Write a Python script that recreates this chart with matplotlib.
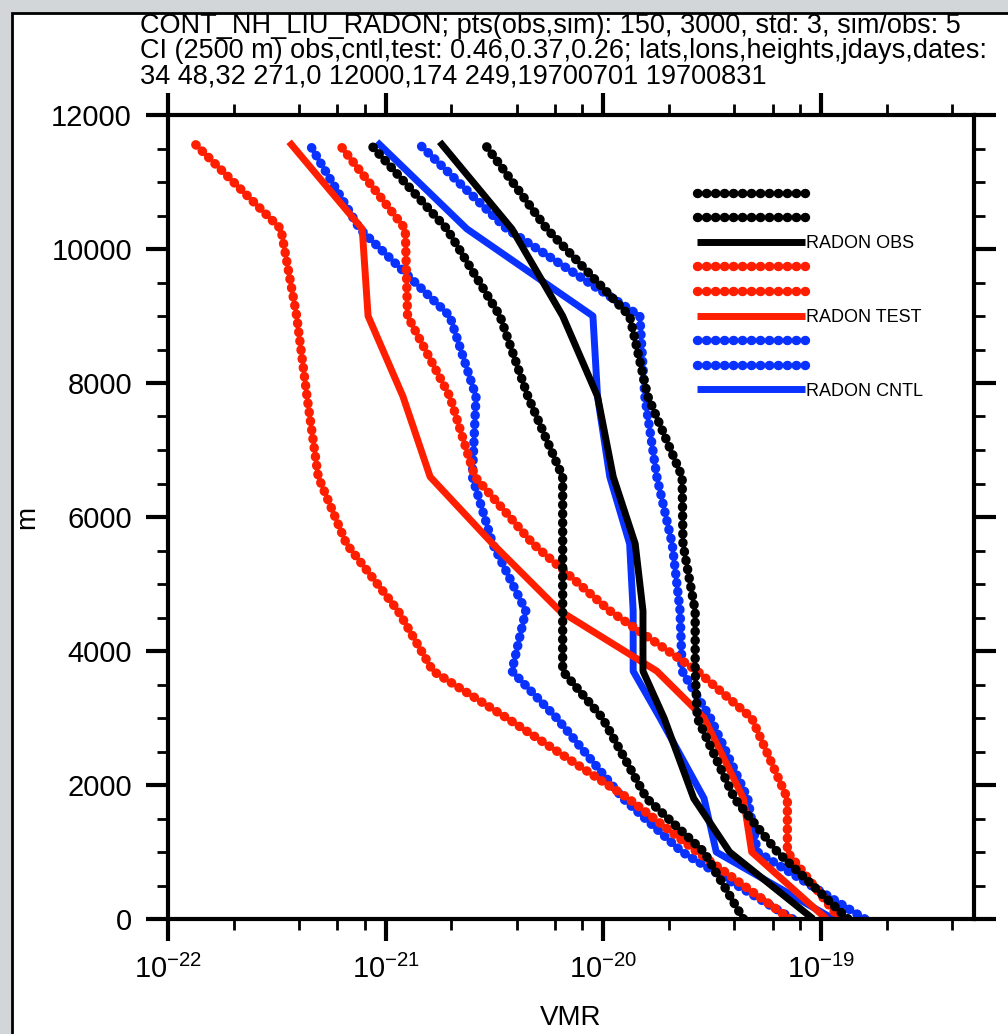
import matplotlib
matplotlib.use("Agg")
import matplotlib.pyplot as plt
from matplotlib.patches import Rectangle
from matplotlib.ticker import FixedLocator, MultipleLocator, NullFormatter

plt.rcParams['font.family'] = ['Liberation Sans', 'DejaVu Sans']
plt.rcParams['mathtext.fontset'] = 'custom'
plt.rcParams['mathtext.rm'] = 'Liberation Sans'

heights = [0, 1000, 1800, 3000, 3700, 4600, 5600, 6600, 7800, 9000, 10300, 11600]

obs = [9.2e-20, 3.8e-20, 2.6e-20, 1.9e-20, 1.52e-20, 1.52e-20, 1.40e-20, 1.11e-20, 9.4e-21, 6.5e-21, 3.8e-21, 1.77e-21]
obs_lo = [4.4e-20, 2.9e-20, 1.58e-20, 9.9e-21, 6.5e-21, 6.5e-21, 6.5e-21, 6.5e-21, 4.5e-21, 3.35e-21, 1.91e-21, 8.3e-22]
obs_hi = [1.33e-19, 6.3e-20, 4.0e-20, 2.7e-20, 2.64e-20, 2.64e-20, 2.32e-20, 2.30e-20, 1.60e-20, 1.32e-20, 5.5e-21, 2.8e-21]

test = [1.06e-19, 4.8e-20, 4.4e-20, 2.9e-20, 1.76e-20, 6.3e-21, 3.1e-21, 1.60e-21, 1.20e-21, 8.3e-22, 7.8e-22, 3.6e-22]
test_lo = [7.2e-20, 2.7e-20, 1.30e-20, 3.6e-21, 1.65e-21, 1.14e-21, 6.6e-22, 4.9e-22, 4.35e-22, 3.9e-22, 3.3e-22, 1.30e-22]
test_hi = [1.22e-19, 7.0e-20, 7.0e-20, 4.8e-20, 2.7e-20, 1.07e-20, 4.75e-21, 2.57e-21, 1.97e-21, 1.26e-21, 1.23e-21, 6.0e-22]

cntl = [1.14e-19, 3.3e-20, 2.9e-20, 1.82e-20, 1.37e-20, 1.37e-20, 1.32e-20, 1.07e-20, 9.4e-21, 8.95e-21, 2.36e-21, 9.1e-22]
cntl_lo = [7.4e-20, 2.3e-20, 1.23e-20, 6.1e-21, 3.8e-21, 4.4e-21, 3.1e-21, 2.5e-21, 2.6e-21, 1.97e-21, 7.6e-22, 4.4e-22]
cntl_hi = [1.59e-19, 5.1e-20, 4.6e-20, 3.1e-20, 2.30e-20, 2.25e-20, 2.07e-20, 1.76e-20, 1.55e-20, 1.47e-20, 3.6e-21, 1.39e-21]

title_lines = [
    "CONT_NH_LIU_RADON; pts(obs,sim): 150, 3000, std: 3, sim/obs: 5",
    "CI (2500 m) obs,cntl,test: 0.46,0.37,0.26; lats,lons,heights,jdays,dates:",
    "34 48,32 271,0 12000,174 249,19700701 19700831",
]

red = '#ff1e00'
blue = '#0a32ff'
dots = (0, (0.05, 0.9))

fig = plt.figure(figsize=(10.08, 10.34), dpi=100, facecolor='#d3d6d9')
# white page with a thin black edge, as in the screenshot
fig.patches.append(Rectangle((12 / 1008, -0.1), 1.1, 1.1 - 13 / 1034,
                             transform=fig.transFigure, facecolor='white',
                             edgecolor='black', linewidth=2, zorder=-10))
ax = fig.add_axes([168 / 1008, 1 - 919 / 1034, (974 - 168) / 1008, (919 - 115) / 1034])
ax.set_facecolor('white')

solid = dict(linewidth=5, solid_capstyle='butt')
dotted = dict(linewidth=6.8, linestyle=dots, dash_capstyle='round')
b1, = ax.plot(cntl_lo, heights, color=blue, **dotted)
b2, = ax.plot(cntl_hi, heights, color=blue, **dotted)
b3, = ax.plot(cntl, heights, color=blue, **solid)
r1, = ax.plot(test_lo, heights, color=red, **dotted)
r2, = ax.plot(test_hi, heights, color=red, **dotted)
r3, = ax.plot(test, heights, color=red, **solid)
k1, = ax.plot(obs_lo, heights, color='black', **dotted)
k2, = ax.plot(obs_hi, heights, color='black', **dotted)
k3, = ax.plot(obs, heights, color='black', **solid)

ax.set_xscale('log')
ax.set_xlim(1e-22, 5.04e-19)
ax.set_ylim(0, 12000)

ax.xaxis.set_major_locator(FixedLocator([1e-22, 1e-21, 1e-20, 1e-19]))
ax.set_xticklabels([r'$\mathregular{10^{-22}}$', r'$\mathregular{10^{-21}}$',
                    r'$\mathregular{10^{-20}}$', r'$\mathregular{10^{-19}}$'])
minors = [m * 10.0 ** e for e in range(-22, -18) for m in (2, 4, 6, 8)]
ax.xaxis.set_minor_locator(FixedLocator(minors))
ax.xaxis.set_minor_formatter(NullFormatter())
ax.yaxis.set_major_locator(MultipleLocator(2000))
ax.yaxis.set_minor_locator(MultipleLocator(500))

for s in ax.spines.values():
    s.set_linewidth(3)
ax.tick_params(which='both', direction='out', top=True, right=True, width=3)
ax.tick_params(which='major', length=16)
ax.tick_params(which='minor', length=8, width=2)
ax.tick_params(axis='x', which='major', labelsize=21, pad=10)
ax.tick_params(axis='y', which='major', labelsize=21, pad=10)

ax.set_xlabel('VMR', fontsize=20, labelpad=15)
ax.set_ylabel('m', fontsize=20, labelpad=8)

fig.text(140 / 1008, 1 - 13 / 1034, "\n".join(title_lines), ha='left', va='top',
         fontsize=19.5, linespacing=0.97)

handles = [k1, k2, k3, r1, r2, r3, b1, b2, b3]
labels = ['', '', 'RADON OBS', '', '', 'RADON TEST', '', '', 'RADON CNTL']
ax.legend(handles, labels, loc='upper left', bbox_to_anchor=(688 / 1008, 1 - 177 / 1034),
          bbox_transform=fig.transFigure, frameon=False, fontsize=13,
          handlelength=6.0, handletextpad=0.05, labelspacing=0.42, borderpad=0)

fig.savefig('out.png', dpi=100, facecolor=fig.get_facecolor())
